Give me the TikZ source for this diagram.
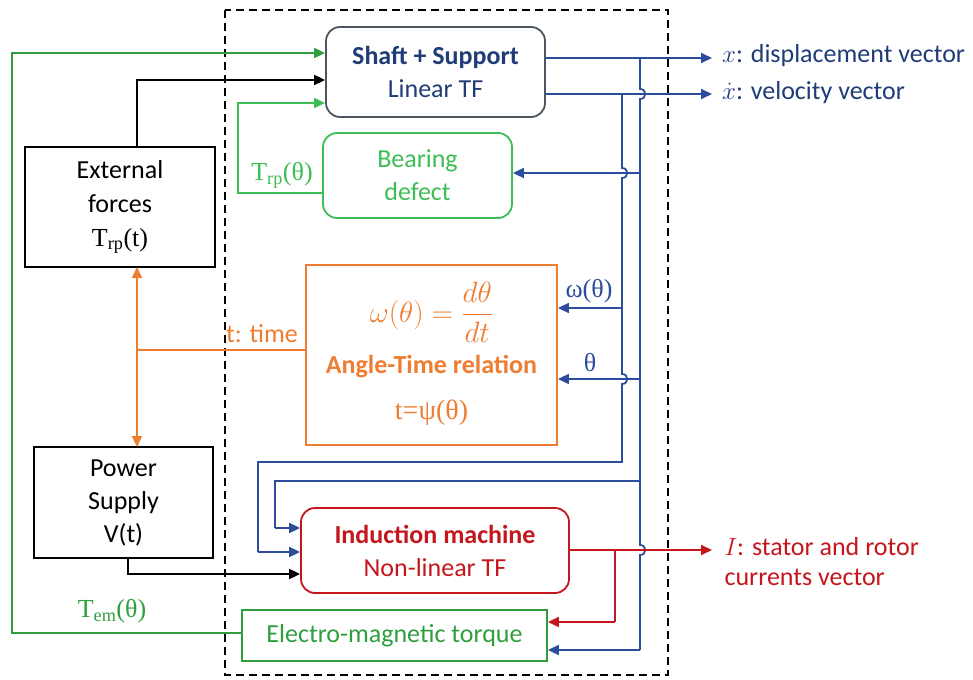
\documentclass[tikz,border=0pt]{standalone}
\usepackage{fontspec}
\setmainfont{Carlito}
\newfontfamily\serif{Liberation Serif}
\usetikzlibrary{arrows.meta}
\definecolor{navy}{HTML}{1F3B78}
\definecolor{lblue}{HTML}{2C4D9C}
\definecolor{dgreen}{HTML}{2F9E3F}
\definecolor{lgreen}{HTML}{3DBE55}
\definecolor{orng}{HTML}{EE7D31}
\definecolor{dred}{HTML}{C4161C}
\definecolor{gbord}{HTML}{4D5560}
\tikzset{
  txt/.style={font=\fontsize{26}{33}\selectfont},
  box/.style={draw, line width=1.8pt, align=center, inner sep=0pt, txt},
  conn/.style={line width=1.8pt},
  arr/.style={conn, -{Triangle[length=11pt,width=10pt]}},
  darr/.style={conn, {Triangle[length=11pt,width=10pt]}-{Triangle[length=11pt,width=10pt]}},
}
\begin{document}
\begin{tikzpicture}[x=1pt,y=-1pt]
\useasboundingbox (0,0) rectangle (973,679);
% dashed frame
\draw[line width=1.8pt, dash pattern=on 8pt off 5pt] (225,10) rectangle (668,675);

% boxes
\node[box, draw=gbord, rounded corners=14pt, minimum width=219pt, minimum height=90pt, text=navy]
  (shaft) at (435.5,72) {\textbf{Shaft + Support}\\Linear TF};
\node[box, draw=lgreen, rounded corners=14pt, minimum width=189pt, minimum height=85pt, text=lgreen]
  (bear) at (417.5,175.5) {Bearing\\defect};
\node[box, draw=orng, minimum width=251pt, minimum height=180pt] (angle) at (431.5,355) {};
\node[txt, text=orng, scale=1.18] (ang1) at (431.5,312) {$\displaystyle\omega(\theta)=\frac{d\theta}{dt}$};
\node[txt, text=orng] (ang2) at (431.5,367) {\textbf{Angle-Time relation}};
\node[text=orng, font=\fontsize{28}{33}\selectfont] (ang3) at (431.5,413) {\serif t=ψ(θ)};
\node[box, minimum width=190pt, minimum height=120pt, font=\fontsize{26}{34}\selectfont]
  (ext) at (120,207) {External\\forces\\{\serif T\textsubscript{rp}(t)}};
\node[box, minimum width=179pt, minimum height=111pt, font=\fontsize{26}{33}\selectfont]
  (pow) at (123.5,502.5) {Power\\Supply\\V(t)};
\node[box, draw=dred, rounded corners=14pt, minimum width=268pt, minimum height=85pt, text=dred]
  (ind) at (435,550.5) {\textbf{Induction machine}\\Non-linear TF};
\node[box, draw=dgreen, minimum width=305pt, minimum height=51pt, text=dgreen]
  (em) at (394.5,635.5) {Electro-magnetic torque};

% coordinates
\coordinate (xo) at (712,58);
\coordinate (xdo) at (712,94);
\coordinate (io) at (712,550);
\coordinate (jA0) at (640,58);
\coordinate (jB0) at (622,94);
\coordinate (jA1) at (640,173);
\coordinate (jB1) at (622,308);
\coordinate (jA2) at (640,379);
\coordinate (jB2) at (622,462);
\coordinate (jA3) at (640,481);
\coordinate (jA4) at (640,650);
\coordinate (jR0) at (615,550);
\coordinate (jR1) at (615,622);
\coordinate (o1) at (258,462);
\coordinate (o2) at (258,552);
\coordinate (i1) at (275,481);
\coordinate (i2) at (275,528);
\coordinate (g1) at (12,633);
\coordinate (g2) at (12,53);
\coordinate (b1) at (238,193);
\coordinate (b2) at (238,103);
\coordinate (k1) at (137,147);
\coordinate (k2) at (137,80);
\coordinate (p1) at (128,558);
\coordinate (p2) at (128,574);
\coordinate (t1) at (137,350);

% blue outputs
\draw[arr, lblue] (shaft.east |- xo) -- (xo);
\draw[arr, lblue] (shaft.east |- xdo) -- (xdo);
% blue vertical A (displacement) with hops
\draw[conn, lblue] (jA0) -- (640,89) .. controls (647,89) and (647,99) .. (640,99)
  -- (640,545) .. controls (647,545) and (647,555) .. (640,555) -- (jA4);
% blue vertical B (velocity) with hops
\draw[conn, lblue] (jB0) -- (622,168) .. controls (629,168) and (629,178) .. (622,178)
  -- (622,374) .. controls (629,374) and (629,384) .. (622,384) -- (jB2) -- (o1) -- (o2);
\draw[arr, lblue] (o2) -- (o2 -| ind.west);
\draw[arr, lblue] (jA1) -- (jA1 -| bear.east);
\draw[arr, lblue] (jB1) -- (jB1 -| angle.east);
\draw[arr, lblue] (jA2) -- (jA2 -| angle.east);
\draw[conn, lblue] (jA3) -- (i1) -- (i2);
\draw[arr, lblue] (i2) -- (i2 -| ind.west);
\draw[arr, lblue] (jA4) -- (jA4 -| em.east);

% red
\draw[arr, dred] (ind.east |- io) -- (io);
\draw[conn, dred] (jR0) -- (jR1);
\draw[arr, dred] (jR1) -- (jR1 -| em.east);

% green
\draw[arr, dgreen] (em.west |- g1) -- (g1) -- (g2) -- (g2 -| shaft.west);
\draw[arr, lgreen] (bear.west |- b1) -- (b1) -- (b2) -- (b2 -| shaft.west);

% black
\draw[arr] (k1) -- (k2) -- (k2 -| shaft.west);
\draw[arr] (p1) -- (p2) -- (p2 -| ind.west);

% orange
\draw[conn, orng] (angle.west |- t1) -- (t1);
\draw[darr, orng] (137,267) -- (137,447);

% labels
\node[text=navy, anchor=west, align=left, inner sep=0pt, font=\fontsize{26}{37}\selectfont] (xl) at (722,74)
  {$x$: displacement vector\\$\dot{x}$: velocity vector};
\node[txt, text=dred, anchor=west, align=left, font=\fontsize{26}{30}\selectfont] (il) at (721,562) {$I$: stator and rotor\\currents vector};
\node[txt, text=lgreen] (trp) at (282,175) {\serif T\textsubscript{rp}(θ)};
\node[txt, text=dgreen] (tem) at (112,611) {\serif T\textsubscript{em}(θ)};
\node[txt, text=orng] (tt) at (262,334) {t: time};
\node[txt, text=lblue] (wl) at (589,291) {\serif ω(θ)};
\node[txt, text=lblue] (thl) at (590,363) {\serif θ};
\end{tikzpicture}
\end{document}
